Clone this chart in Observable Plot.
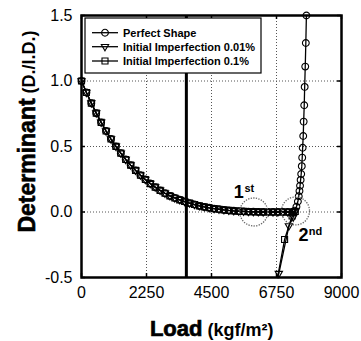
<!DOCTYPE html>
<html><head><meta charset="utf-8">
<script src="https://cdn.jsdelivr.net/npm/d3@7"></script>
<script src="https://cdn.jsdelivr.net/npm/@observablehq/plot@0.6"></script>
<style>html,body{margin:0;padding:0;background:#fff}</style>
</head><body><div id="chart"></div>
<script>
const xTicks = [0, 2250, 4500, 6750, 9000];
const yTicks = [-0.5, 0, 0.5, 1.0, 1.5];
const xGrid = [2250, 4500, 6750];
const yGrid = [0, 0.5, 1.0];
const seriesNames = ["Perfect Shape", "Initial Imperfection 0.01%", "Initial Imperfection 0.1%"];

// shared pre-buckling branch (all three series coincide)
const baseLoad = [0,170,340,510,680,850,1020,1190,1360,1530,1700,1870,2040,2210,2380,2550,2720,2890,3060,3230,3400,3570,3740,3910,4080,4250,4420,4590,4760,4930,5100,5270,5440,5610,5780,5950,6120,6290,6460,6630,6800,6970,7140,7310];
const baseDet  = [1.000,0.912,0.831,0.755,0.684,0.618,0.557,0.501,0.449,0.401,0.358,0.318,0.281,0.248,0.217,0.190,0.165,0.143,0.123,0.107,0.093,0.080,0.068,0.057,0.047,0.039,0.032,0.026,0.021,0.016,0.012,0.009,0.007,0.005,0.003,0.002,0.001,0.000,0.000,0.000,0.000,0.000,0.000,0.000];

// perfect shape: rising branch
const perfectTailLoad = [7380,7440,7490,7520,7545,7565,7585,7605,7625,7640,7655,7675,7690,7710,7725,7745,7765,7785];
const perfectTailDet  = [0.010,0.040,0.080,0.120,0.160,0.200,0.245,0.290,0.350,0.415,0.490,0.580,0.690,0.815,0.955,1.110,1.290,1.500];

// imperfection 0.01%: descending branch
const imp001TailLoad = [7400,7330,7180,6830,6785];
const imp001TailDet  = [0.005,-0.040,-0.107,-0.470,-0.500];

// imperfection 0.1%: descending branch
const imp01TailLoad = [7400,7290,7030,6785];
const imp01TailDet  = [0.005,-0.030,-0.210,-0.500];

// annotations
const annotLoad = [5964, 7408];
const annotDet = [0.0, 0.008];
const annotMain = ["1", "2"];
const annotSup = ["st", "nd"];
const annotMainLoad = [5620, 7860];
const annotMainDet = [0.107, -0.221];
const annotSupLoad = [5640, 7870];
const annotSupDet = [0.150, -0.172];

const scanLineLoad = [3630];

function build(name, loads, dets) {
  return loads.map((l, i) => ({series: name, load: l, det: dets[i]}));
}
const rows = [
  ...build(seriesNames[0], baseLoad.concat(perfectTailLoad), baseDet.concat(perfectTailDet)),
  ...build(seriesNames[1], baseLoad.concat(imp001TailLoad), baseDet.concat(imp001TailDet)),
  ...build(seriesNames[2], baseLoad.concat(imp01TailLoad), baseDet.concat(imp01TailDet))
];
const annots = annotLoad.map((l, i) => ({load: l, det: annotDet[i]}));
const mains = annotMain.map((t, i) => ({t, load: annotMainLoad[i], det: annotMainDet[i]}));
const sups = annotSup.map((t, i) => ({t, load: annotSupLoad[i], det: annotSupDet[i]}));

const triDown = {
  draw(context, size) {
    const r = Math.sqrt(size / Math.PI) * 1.2;
    context.moveTo(0, r);
    context.lineTo(r * 0.9, -r * 0.55);
    context.lineTo(-r * 0.9, -r * 0.55);
    context.closePath();
  }
};
const symbols = [d3.symbolCircle, triDown, d3.symbolSquare];
const R = 3.4;

const W = 361, H = 341, mt = 15, mr = 20, mb = 64, ml = 81;
const ph = H - mt - mb, pw = W - ml - mr;

const chart = Plot.plot({
  width: W, height: H,
  marginTop: mt, marginRight: mr, marginBottom: mb, marginLeft: ml,
  style: {fontFamily: "'Liberation Sans', Arial, sans-serif", background: "#fff", color: "#000"},
  x: {domain: [0, 9000]},
  y: {domain: [-0.5, 1.5]},
  symbol: {domain: seriesNames, range: symbols},
  marks: [
    Plot.gridX(xGrid, {stroke: "#555", strokeOpacity: 1, strokeDasharray: "1,2"}),
    Plot.gridY(yGrid, {stroke: "#555", strokeOpacity: 1, strokeDasharray: "1,2"}),
    Plot.ruleX(scanLineLoad, {stroke: "#000", strokeWidth: 3}),
    Plot.line(rows, {x: "load", y: "det", z: "series", stroke: "#000", strokeWidth: 1.3}),
    Plot.dot(rows, {filter: d => d.det > -0.5, x: "load", y: "det", symbol: "series", r: R, stroke: "#000", fill: "none", strokeWidth: 1.1}),
    Plot.dot(annots, {x: "load", y: "det", r: 14, stroke: "#666", fill: "none", strokeWidth: 1.3, strokeDasharray: "1.3,1.3"}),
    Plot.text(mains, {x: "load", y: "det", text: "t", textAnchor: "end", lineAnchor: "bottom", fontSize: 18, fontWeight: "bold", fill: "#000"}),
    Plot.text(sups, {x: "load", y: "det", text: "t", textAnchor: "start", lineAnchor: "bottom", fontSize: 11, fontWeight: "bold", fill: "#000"}),
    Plot.frame({stroke: "#000", strokeWidth: 2.5}),
    Plot.tickX(xTicks, {x: d => d, insetTop: ph - 4, stroke: "#000", strokeWidth: 1.5}),
    Plot.tickX(xTicks, {x: d => d, insetBottom: ph - 4, stroke: "#000", strokeWidth: 1.5}),
    Plot.tickY(yTicks, {y: d => d, insetRight: pw - 4, stroke: "#000", strokeWidth: 1.5}),
    Plot.tickY(yTicks, {y: d => d, insetLeft: pw - 4, stroke: "#000", strokeWidth: 1.5}),
    Plot.axisX(xTicks, {anchor: "bottom", tickSize: 0, tickPadding: 9, fontSize: 16, label: null, tickFormat: d => String(d)}),
    Plot.axisY(yTicks, {anchor: "left", tickSize: 0, tickPadding: 9, fontSize: 16, label: null, tickFormat: d => d.toFixed(1)})
  ]
});
document.getElementById("chart").appendChild(chart);

const svg = d3.select(chart);
// legend
const lg = svg.append("g").attr("font-family", "'Liberation Sans', Arial, sans-serif").attr("text-anchor", "start");
lg.append("rect").attr("x", 85).attr("y", 18).attr("width", 176).attr("height", 55)
  .attr("fill", "#fff").attr("stroke", "#000").attr("stroke-width", 1.2);
const rowY = [32.7, 46.7, 61];
seriesNames.forEach((name, i) => {
  lg.append("line").attr("x1", 92).attr("x2", 118).attr("y1", rowY[i]).attr("y2", rowY[i])
    .attr("stroke", "#000").attr("stroke-width", 1.3);
  lg.append("path").attr("d", d3.symbol(symbols[i], R * R * Math.PI)())
    .attr("transform", `translate(105,${rowY[i]})`).attr("fill", "none").attr("stroke", "#000").attr("stroke-width", 1.1);
  lg.append("text").attr("x", 123).attr("y", rowY[i]).attr("dy", "0.36em").attr("text-anchor", "start")
    .attr("font-size", 11).attr("font-weight", "bold").attr("fill", "#000").text(name);
});
// axis titles
const yt = svg.append("text").attr("transform", "translate(35,131.5) rotate(-90)")
  .attr("text-anchor", "middle").attr("font-family", "'Liberation Sans', Arial, sans-serif")
  .attr("font-weight", "bold").attr("fill", "#000");
yt.append("tspan").attr("font-size", 23).attr("stroke", "#000").attr("stroke-width", 0.6).text("Determinant");
yt.append("tspan").attr("font-size", 18).text(" (D./I.D.)");
const xt = svg.append("text").attr("x", 211.7).attr("y", 336)
  .attr("text-anchor", "middle").attr("font-family", "'Liberation Sans', Arial, sans-serif")
  .attr("font-weight", "bold").attr("fill", "#000");
xt.append("tspan").attr("font-size", 22).attr("stroke", "#000").attr("stroke-width", 0.7).text("Load");
xt.append("tspan").attr("font-size", 18).text(" (kgf/m²)");
</script>
</body></html>
